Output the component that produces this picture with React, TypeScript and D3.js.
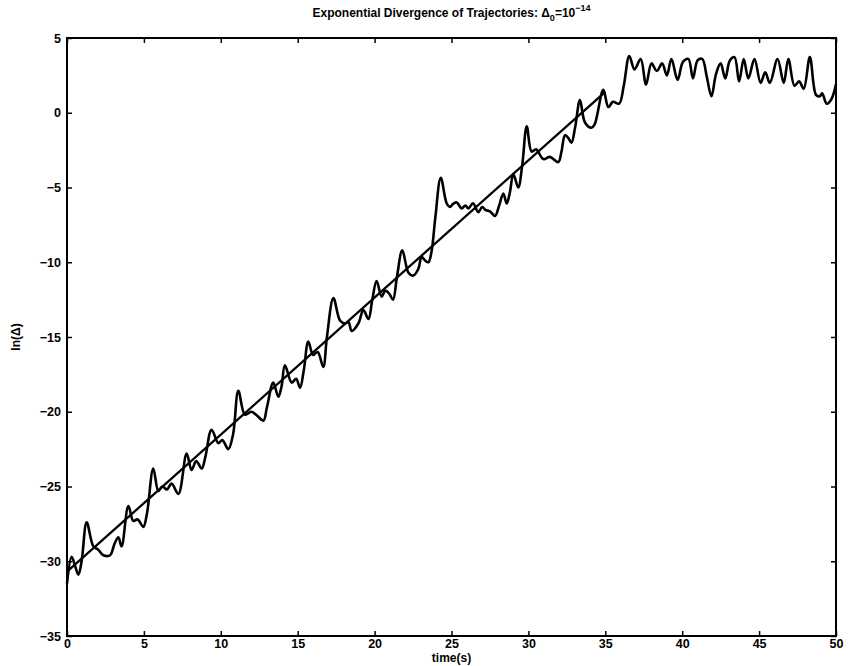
import React, { useEffect, useRef } from "react";
import * as d3 from "d3";

const timeS = [
  0, 0.3, 0.52, 0.74, 0.95, 1.28, 1.71, 2.0, 2.36, 2.8, 3.1, 3.34, 3.55, 3.99, 4.31, 4.6, 4.96, 5.2, 5.61, 5.94,
  6.2, 6.5, 6.8, 7.24, 7.78, 8.1, 8.4, 8.76, 9.0, 9.4, 9.84, 10.1, 10.49, 10.8, 11.14, 11.57, 12.0, 12.4, 12.77, 13.0,
  13.41, 13.74, 13.95, 14.17, 14.61, 14.9, 15.15, 15.4, 15.69, 16.0, 16.3, 16.66, 16.9, 17.32, 17.75, 18.07, 18.3, 18.51, 18.94, 19.27,
  19.6, 19.85, 20.13, 20.46, 20.7, 20.95, 21.2, 21.45, 21.8, 22.2, 22.5, 22.84, 23.06, 23.3, 23.5, 23.7, 23.95, 24.3, 24.69, 24.9,
  25.1, 25.34, 25.66, 25.9, 26.1, 26.4, 26.74, 27.0, 27.2, 27.5, 27.83, 28.1, 28.37, 28.59, 28.8, 29.02, 29.34, 29.6, 29.89, 30.21,
  30.5, 30.97, 31.4, 31.94, 32.15, 32.38, 32.6, 32.8, 33.05, 33.35, 33.68, 34.1, 34.3, 34.87, 35.2, 35.5, 35.9, 36.2, 36.56, 36.9,
  37.3, 37.65, 38.0, 38.35, 38.7, 39.0, 39.3, 39.7, 40.05, 40.4, 40.7, 41.0, 41.3, 41.6, 41.9, 42.2, 42.5, 42.8, 43.1, 43.4,
  43.7, 44.0, 44.3, 44.7, 45.1, 45.4, 45.7, 46.2, 46.6, 46.9, 47.3, 47.6, 47.9, 48.3, 48.7, 48.95, 49.1, 49.4, 49.7, 50,
];
const lnDelta = [
  -31.5, -29.7, -30.3, -30.9, -30.0, -27.4, -29.0, -29.2, -29.6, -29.6, -28.8, -28.4, -29.0, -26.3, -27.3, -27.2, -27.7, -26.8, -23.8, -25.3,
  -25.0, -25.2, -24.8, -25.5, -22.8, -23.9, -23.3, -23.8, -23.0, -21.2, -22.1, -21.9, -22.5, -21.5, -18.6, -20.2, -20.0, -20.3, -20.6, -19.7,
  -18.05, -19.0, -18.3, -16.9, -18.05, -17.8, -18.4, -17.2, -15.3, -16.2, -16.0, -17.0, -15.0, -12.4, -13.9, -14.1, -14.0, -14.6, -14.1, -13.2,
  -13.8, -12.5, -11.25, -12.3, -11.9, -12.1, -12.5, -11.0, -9.2, -10.7, -10.9, -10.45, -9.65, -9.9, -10.0, -9.3, -7.0, -4.35, -6.07, -6.3,
  -6.1, -6.0, -6.4, -6.2, -6.4, -6.05, -6.65, -6.3, -6.5, -6.6, -6.9, -6.2, -5.4, -6.07, -5.3, -4.1, -5.0, -3.5, -0.9, -2.6,
  -2.45, -3.1, -2.95, -3.3, -2.6, -1.5, -1.7, -2.0, -0.9, 0.85, -0.65, -1.0, -0.8, 1.53, 0.38, 0.73, 0.61, 1.8, 3.79, 2.9,
  3.6, 1.88, 3.3, 2.8, 3.3, 2.5, 3.6, 2.2, 3.4, 3.6, 2.3, 3.5, 3.6, 2.4, 1.1, 2.6, 3.3, 2.3, 3.5, 3.72,
  2.1, 3.6, 2.3, 3.6, 2.0, 2.7, 2.0, 3.6, 2.0, 3.6, 1.8, 2.1, 1.6, 3.72, 1.2, 1.1, 1.3, 0.6, 0.9, 1.9,
];
const fitT = [0, 35];
const fitV = [-30.7, 1.4];
const xTicks = [0, 5, 10, 15, 20, 25, 30, 35, 40, 45, 50];
const yTicks = [5, 0, -5, -10, -15, -20, -25, -30, -35];

const W = 848;
const H = 666;
const M = { left: 67, right: 836, top: 38, bottom: 636 };
const FONT = "'Liberation Sans', Arial, Helvetica, sans-serif";

export default function App() {
  const gRef = useRef<SVGGElement>(null);

  useEffect(() => {
    const g = d3.select(gRef.current);
    g.selectAll("*").remove();
    const x = d3.scaleLinear().domain([0, 50]).range([M.left, M.right]);
    const y = d3.scaleLinear().domain([-35, 5]).range([M.bottom, M.top]);

    const styleAxis = (sel: any, labels: boolean) => {
      sel.select(".domain").remove();
      sel.selectAll(".tick line").attr("stroke", "#000").attr("stroke-width", 1.5);
      sel.selectAll(".tick text")
        .attr("font-family", FONT)
        .attr("font-size", 12.5)
        .attr("font-weight", "bold")
        .attr("fill", "#000");
      if (!labels) sel.selectAll(".tick text").remove();
    };

    g.append("g")
      .attr("transform", `translate(0,${M.bottom})`)
      .call(d3.axisBottom(x).tickValues(xTicks).tickSize(-5).tickPadding(3).tickFormat(d3.format("d")))
      .call((s: any) => styleAxis(s, true));
    g.append("g")
      .attr("transform", `translate(0,${M.top})`)
      .call(d3.axisTop(x).tickValues(xTicks).tickSize(-5))
      .call((s: any) => styleAxis(s, false));
    g.append("g")
      .attr("transform", `translate(${M.left},0)`)
      .call(d3.axisLeft(y).tickValues(yTicks).tickSize(-5).tickPadding(6).tickFormat(d3.format("d")))
      .call((s: any) => styleAxis(s, true));
    g.append("g")
      .attr("transform", `translate(${M.right},0)`)
      .call(d3.axisRight(y).tickValues(yTicks).tickSize(-5))
      .call((s: any) => styleAxis(s, false));

    g.append("rect")
      .attr("x", M.left)
      .attr("y", M.top)
      .attr("width", M.right - M.left)
      .attr("height", M.bottom - M.top)
      .attr("fill", "none")
      .attr("stroke", "#000")
      .attr("stroke-width", 2);

    const data = timeS.map((t, i) => [t, lnDelta[i]] as [number, number]);
    const line = d3.line<[number, number]>()
      .x((d) => x(d[0]))
      .y((d) => y(d[1]))
      .curve(d3.curveCatmullRom.alpha(0.5));
    g.append("path")
      .attr("d", line(data))
      .attr("fill", "none")
      .attr("stroke", "#000")
      .attr("stroke-width", 2.6)
      .attr("stroke-linejoin", "round");

    const fit = fitT.map((t, i) => [t, fitV[i]] as [number, number]);
    g.append("path")
      .attr("d", d3.line<[number, number]>().x((d) => x(d[0])).y((d) => y(d[1]))(fit))
      .attr("fill", "none")
      .attr("stroke", "#000")
      .attr("stroke-width", 2.3);
  }, []);

  const cx = (M.left + M.right) / 2;
  return (
    <svg
      width={W}
      height={H}
      style={{ position: "absolute", left: 0, top: 0, background: "#fff" }}
    >
      <rect x={0} y={0} width={W} height={H} fill="#fff" />
      <text
        x={cx}
        y={17}
        textAnchor="middle"
        fontFamily={FONT}
        fontSize={12}
        fontWeight="bold"
        fill="#000"
      >
        Exponential Divergence of Trajectories: Δ
        <tspan fontSize={9} dy={4}>0</tspan>
        <tspan dy={-4}>=10</tspan>
        <tspan fontSize={9} dy={-6}>−14</tspan>
      </text>
      <text
        x={cx}
        y={662}
        textAnchor="middle"
        fontFamily={FONT}
        fontSize={12}
        fontWeight="bold"
        fill="#000"
      >
        time(s)
      </text>
      <text
        transform={`translate(20,${(M.top + M.bottom) / 2}) rotate(-90)`}
        textAnchor="middle"
        fontFamily={FONT}
        fontSize={12}
        fontWeight="bold"
        fill="#000"
      >
        ln(Δ)
      </text>
      <g ref={gRef} />
    </svg>
  );
}
